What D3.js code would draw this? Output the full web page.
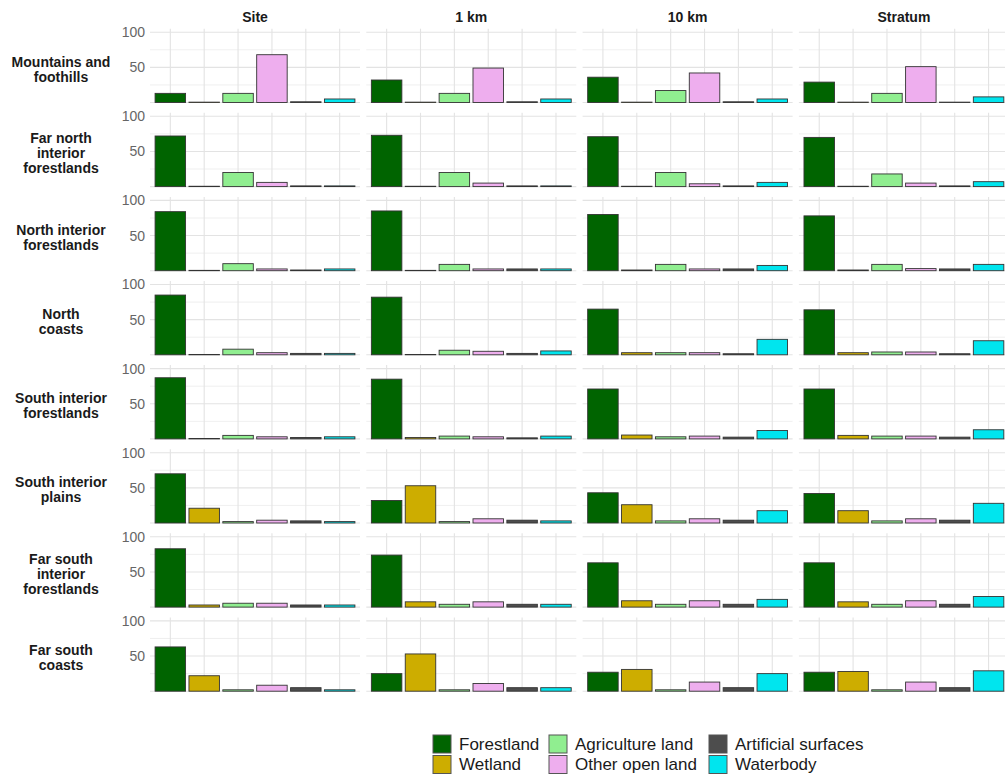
<!DOCTYPE html>
<html>
<head>
<meta charset="utf-8">
<script src="https://cdn.jsdelivr.net/npm/d3@7"></script>
<style>
  html, body { margin: 0; padding: 0; background: #ffffff; overflow: hidden; }
  svg { display: block; font-family: "Liberation Sans", Arial, sans-serif; }
</style>
</head>
<body>
<svg id="chart" width="1005" height="777"></svg>
<script>
// Land-cover classes (bar order inside every panel)
const landCovers = ["Forestland", "Wetland", "Agriculture land", "Other open land", "Artificial surfaces", "Waterbody"];
const coverColors = ["#006400", "#CDAD00", "#90EE90", "#EEAEEE", "#4D4D4D", "#00E5EE"];

// Spatial scales (facet columns)
const scales = ["Site", "1 km", "10 km", "Stratum"];

// Regions (facet rows), one entry per text line
const regions = [
  ["Mountains and", "foothills"],
  ["Far north", "interior", "forestlands"],
  ["North interior", "forestlands"],
  ["North", "coasts"],
  ["South interior", "forestlands"],
  ["South interior", "plains"],
  ["Far south", "interior", "forestlands"],
  ["Far south", "coasts"]
];

// Percent cover per region (rows) and land-cover class (columns)
const siteValues = [
  [13, 0.5, 13, 68, 1, 5],
  [72, 0.5, 20, 6, 1, 1],
  [84, 0.5, 10, 2.5, 1, 2.5],
  [85, 0.5, 8, 3, 2, 2],
  [87, 0.5, 5, 3, 2, 3],
  [70, 21, 2, 4, 3, 2],
  [83, 3, 5.5, 5.5, 3, 3],
  [63, 22, 2, 8.5, 5, 2]
];
const km1Values = [
  [32, 0.5, 13, 49, 1, 5],
  [73, 0.5, 20, 5, 1, 1],
  [85, 0.5, 9, 2.5, 2.5, 2.5],
  [82, 0.5, 6.5, 5, 2, 5.5],
  [85, 2, 4, 3, 1.5, 4],
  [32, 53, 2, 6, 4, 3],
  [74, 7.5, 4, 7.5, 4, 4],
  [25, 53, 2, 11, 5, 5]
];
const km10Values = [
  [36, 0.5, 17, 42, 1, 5],
  [71, 0.5, 20, 4, 1, 6],
  [80, 1, 9, 2.5, 2.5, 7.5],
  [65, 3, 3, 3, 1.5, 22],
  [71, 5.5, 3, 4, 2.5, 12],
  [43, 26, 3, 6, 4, 17.5],
  [63, 9, 4, 9, 4, 11],
  [27, 31, 2, 13, 5, 25]
];
const stratumValues = [
  [29, 0.5, 13, 51, 0.5, 8],
  [70, 0.5, 18, 5, 1, 7],
  [78, 1, 9, 3, 2.5, 9],
  [64, 3, 4, 4, 1.5, 20],
  [71, 5, 4, 4, 2.5, 13],
  [42, 17.5, 3, 6, 4, 28],
  [63, 7.5, 4, 9, 4, 15],
  [27, 28, 2, 13, 5, 29]
];
const yTicks = [50, 100];
const yMinorTicks = [25, 75];

const valuesByScale = [siteValues, km1Values, km10Values, stratumValues];

// Panel geometry
const panelLeft = 150, panelWidth = 210, colStep = 216.3;
const firstBottom = 102.5, rowStep = 84.1, panelHeight = 73.8;

const svg = d3.select("#chart");
const color = d3.scaleOrdinal().domain(landCovers).range(coverColors);
const y = d3.scaleLinear().domain([0, 105]).range([panelHeight, 0]);
const x = d3.scalePoint().domain(landCovers).range([0, panelWidth]).padding(0.6);
const barW = x.step() * 0.9;

// Column strip titles
svg.append("g").selectAll("text")
  .data(scales).join("text")
  .attr("x", (d, i) => panelLeft + i * colStep + panelWidth / 2)
  .attr("y", 17)
  .attr("text-anchor", "middle")
  .attr("dominant-baseline", "central")
  .attr("font-size", 14).attr("font-weight", "bold").attr("fill", "#1a1a1a")
  .text(d => d);

// Row strip labels
regions.forEach((lines, r) => {
  const top = firstBottom + r * rowStep - panelHeight;
  const mid = top + panelHeight / 2 + 3.5;
  const t = svg.append("text")
    .attr("text-anchor", "middle")
    .attr("font-size", 14).attr("font-weight", "bold").attr("fill", "#1a1a1a");
  lines.forEach((ln, k) => {
    t.append("tspan")
      .attr("x", 61)
      .attr("y", mid + (k - (lines.length - 1) / 2) * 15)
      .attr("dominant-baseline", "central")
      .text(ln);
  });
});

// Panels
regions.forEach((lines, r) => {
  const top = firstBottom + r * rowStep - panelHeight;
  // y-axis labels on the first column
  const ax = svg.append("g").attr("transform", `translate(${panelLeft},${top})`)
    .call(d3.axisLeft(y).tickValues(yTicks).tickSize(0).tickPadding(5));
  ax.select(".domain").remove();
  ax.selectAll("text").attr("font-size", 14).attr("fill", "#666666")
    .attr("font-family", "Liberation Sans, Arial, sans-serif");

  scales.forEach((s, c) => {
    const g = svg.append("g").attr("transform", `translate(${panelLeft + c * colStep},${top})`);
    // minor horizontal grid
    g.append("g").selectAll("line").data(yMinorTicks).join("line")
      .attr("x1", 0).attr("x2", panelWidth)
      .attr("y1", d => y(d)).attr("y2", d => y(d))
      .attr("stroke", "#ebebeb").attr("stroke-width", 0.8);
    // major horizontal grid
    g.append("g").selectAll("line").data([0].concat(yTicks)).join("line")
      .attr("x1", 0).attr("x2", panelWidth)
      .attr("y1", d => y(d)).attr("y2", d => y(d))
      .attr("stroke", "#e3e3e3").attr("stroke-width", 1.1);
    // vertical grid at category centres
    g.append("g").selectAll("line").data(landCovers).join("line")
      .attr("x1", d => x(d)).attr("x2", d => x(d))
      .attr("y1", 0).attr("y2", panelHeight)
      .attr("stroke", "#e3e3e3").attr("stroke-width", 1.1);
    // bars
    const vals = valuesByScale[c][r];
    g.append("g").selectAll("rect").data(landCovers).join("rect")
      .attr("x", d => x(d) - barW / 2)
      .attr("width", barW)
      .attr("y", (d, i) => y(vals[i]))
      .attr("height", (d, i) => y(0) - y(vals[i]))
      .attr("fill", d => color(d))
      .attr("stroke", "#333333").attr("stroke-width", 0.9);
  });
});

// Legend: two rows, filled column by column
const legendCols = [433, 549, 709];
const legendRows = [735, 755.5];
const lg = svg.append("g");
landCovers.forEach((name, i) => {
  const col = Math.floor(i / 2), row = i % 2;
  const kx = legendCols[col], ky = legendRows[row];
  lg.append("rect")
    .attr("x", kx).attr("y", ky).attr("width", 18).attr("height", 18)
    .attr("fill", color(name)).attr("stroke", "#555555").attr("stroke-width", 1);
  lg.append("text")
    .attr("x", kx + 26).attr("y", ky + 9)
    .attr("dominant-baseline", "central")
    .attr("font-size", 17).attr("fill", "#1a1a1a")
    .text(name);
});
</script>
</body>
</html>
